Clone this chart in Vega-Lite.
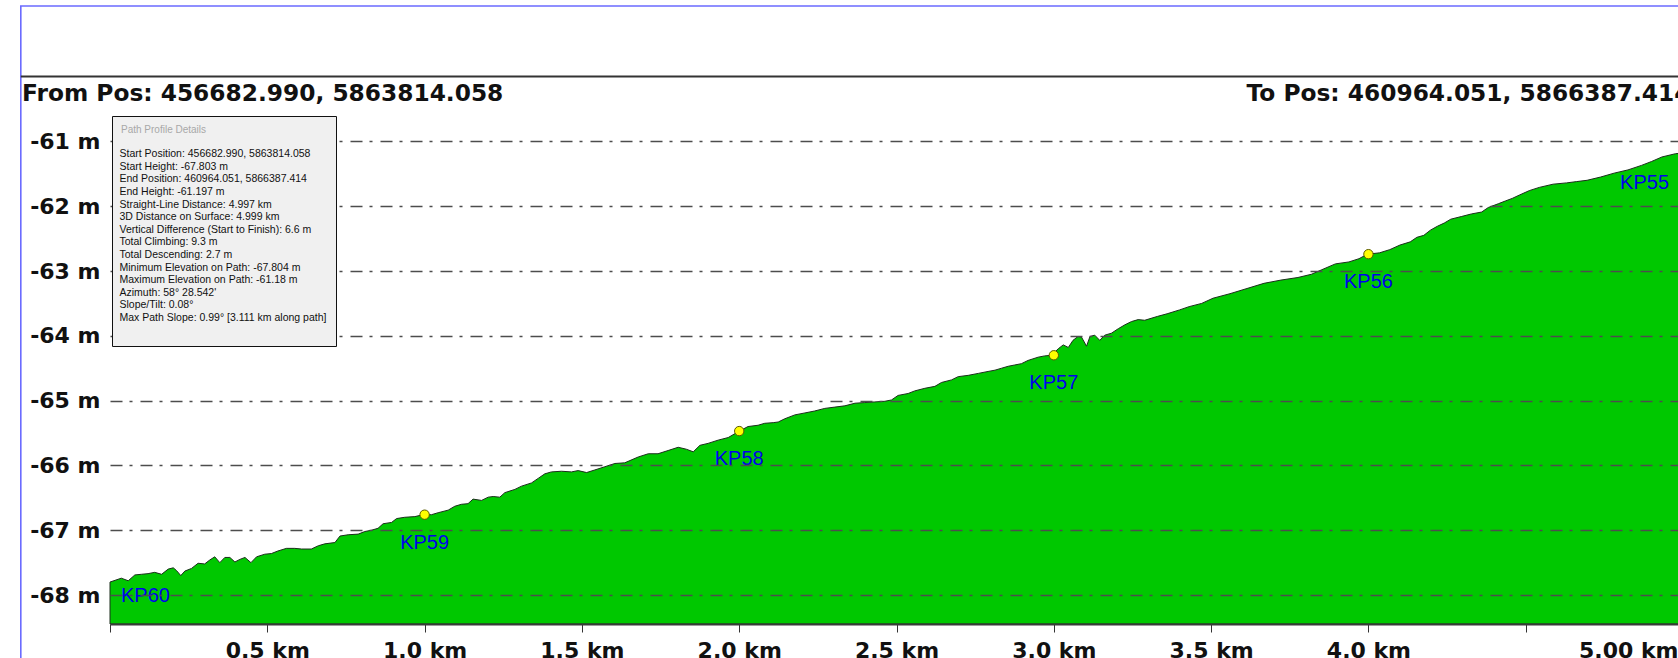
{
  "$schema": "https://vega.github.io/schema/vega-lite/v6.json",
  "width": 1568,
  "height": 515,
  "autosize": {"type": "none"},
  "padding": {"left": 110, "top": 109, "right": 0, "bottom": 34},
  "background": "white",
  "config": {"view": {"stroke": null}},
  "datasets": {
    "profile": [
      {"km": 0, "elev": -67.80}, {"km": 0.036, "elev": -67.74}, {"km": 0.058, "elev": -67.78}, {"km": 0.079, "elev": -67.69},
      {"km": 0.100, "elev": -67.68}, {"km": 0.121, "elev": -67.67}, {"km": 0.142, "elev": -67.65}, {"km": 0.164, "elev": -67.68},
      {"km": 0.185, "elev": -67.60}, {"km": 0.201, "elev": -67.58}, {"km": 0.211, "elev": -67.62}, {"km": 0.225, "elev": -67.70},
      {"km": 0.238, "elev": -67.63}, {"km": 0.259, "elev": -67.59}, {"km": 0.280, "elev": -67.51}, {"km": 0.301, "elev": -67.52},
      {"km": 0.317, "elev": -67.46}, {"km": 0.333, "elev": -67.41}, {"km": 0.349, "elev": -67.50}, {"km": 0.365, "elev": -67.42},
      {"km": 0.381, "elev": -67.42}, {"km": 0.397, "elev": -67.49}, {"km": 0.413, "elev": -67.45}, {"km": 0.429, "elev": -67.42},
      {"km": 0.448, "elev": -67.50}, {"km": 0.466, "elev": -67.41}, {"km": 0.492, "elev": -67.37}, {"km": 0.513, "elev": -67.36},
      {"km": 0.534, "elev": -67.32}, {"km": 0.561, "elev": -67.28}, {"km": 0.587, "elev": -67.28}, {"km": 0.609, "elev": -67.29},
      {"km": 0.640, "elev": -67.29}, {"km": 0.662, "elev": -67.24}, {"km": 0.683, "elev": -67.21}, {"km": 0.715, "elev": -67.19},
      {"km": 0.731, "elev": -67.09}, {"km": 0.757, "elev": -67.07}, {"km": 0.789, "elev": -67.06}, {"km": 0.810, "elev": -67.02},
      {"km": 0.831, "elev": -67.00}, {"km": 0.852, "elev": -66.97}, {"km": 0.868, "elev": -66.90}, {"km": 0.895, "elev": -66.88},
      {"km": 0.911, "elev": -66.82}, {"km": 0.937, "elev": -66.80}, {"km": 0.969, "elev": -66.79}, {"km": 0.995, "elev": -66.76},
      {"km": 1.022, "elev": -66.76}, {"km": 1.043, "elev": -66.73}, {"km": 1.075, "elev": -66.69}, {"km": 1.096, "elev": -66.63},
      {"km": 1.117, "elev": -66.60}, {"km": 1.138, "elev": -66.59}, {"km": 1.154, "elev": -66.52}, {"km": 1.181, "elev": -66.54},
      {"km": 1.202, "elev": -66.49}, {"km": 1.218, "elev": -66.48}, {"km": 1.239, "elev": -66.49}, {"km": 1.255, "elev": -66.42},
      {"km": 1.287, "elev": -66.37}, {"km": 1.308, "elev": -66.32}, {"km": 1.340, "elev": -66.27}, {"km": 1.361, "elev": -66.20},
      {"km": 1.382, "elev": -66.13}, {"km": 1.403, "elev": -66.10}, {"km": 1.435, "elev": -66.09}, {"km": 1.467, "elev": -66.10},
      {"km": 1.488, "elev": -66.08}, {"km": 1.515, "elev": -66.11}, {"km": 1.541, "elev": -66.07}, {"km": 1.573, "elev": -66.02},
      {"km": 1.605, "elev": -65.97}, {"km": 1.636, "elev": -65.96}, {"km": 1.679, "elev": -65.87}, {"km": 1.711, "elev": -65.82},
      {"km": 1.742, "elev": -65.82}, {"km": 1.774, "elev": -65.77}, {"km": 1.806, "elev": -65.72}, {"km": 1.832, "elev": -65.75},
      {"km": 1.854, "elev": -65.79}, {"km": 1.875, "elev": -65.69}, {"km": 1.901, "elev": -65.66}, {"km": 1.933, "elev": -65.61},
      {"km": 1.965, "elev": -65.57}, {"km": 1.997, "elev": -65.48}, {"km": 2.028, "elev": -65.40}, {"km": 2.060, "elev": -65.38},
      {"km": 2.081, "elev": -65.35}, {"km": 2.108, "elev": -65.34}, {"km": 2.124, "elev": -65.33}, {"km": 2.145, "elev": -65.28},
      {"km": 2.177, "elev": -65.22}, {"km": 2.209, "elev": -65.19}, {"km": 2.240, "elev": -65.16}, {"km": 2.272, "elev": -65.12},
      {"km": 2.304, "elev": -65.10}, {"km": 2.336, "elev": -65.08}, {"km": 2.368, "elev": -65.04}, {"km": 2.399, "elev": -65.03},
      {"km": 2.431, "elev": -65.02}, {"km": 2.463, "elev": -65.01}, {"km": 2.484, "elev": -64.99}, {"km": 2.505, "elev": -64.92},
      {"km": 2.537, "elev": -64.89}, {"km": 2.558, "elev": -64.85}, {"km": 2.590, "elev": -64.81}, {"km": 2.622, "elev": -64.78},
      {"km": 2.643, "elev": -64.72}, {"km": 2.675, "elev": -64.68}, {"km": 2.696, "elev": -64.63}, {"km": 2.728, "elev": -64.61},
      {"km": 2.760, "elev": -64.58}, {"km": 2.791, "elev": -64.55}, {"km": 2.813, "elev": -64.53}, {"km": 2.834, "elev": -64.50},
      {"km": 2.855, "elev": -64.47}, {"km": 2.876, "elev": -64.45}, {"km": 2.897, "elev": -64.43}, {"km": 2.918, "elev": -64.38},
      {"km": 2.950, "elev": -64.33}, {"km": 2.971, "elev": -64.31}, {"km": 2.993, "elev": -64.30}, {"km": 3.014, "elev": -64.20},
      {"km": 3.030, "elev": -64.14}, {"km": 3.046, "elev": -64.18}, {"km": 3.061, "elev": -64.07}, {"km": 3.077, "elev": -64.01},
      {"km": 3.088, "elev": -64.02}, {"km": 3.104, "elev": -64.16}, {"km": 3.115, "elev": -64.01}, {"km": 3.130, "elev": -63.99},
      {"km": 3.146, "elev": -64.07}, {"km": 3.162, "elev": -63.99}, {"km": 3.183, "elev": -63.96}, {"km": 3.205, "elev": -63.89},
      {"km": 3.226, "elev": -63.83}, {"km": 3.247, "elev": -63.78}, {"km": 3.268, "elev": -63.75}, {"km": 3.289, "elev": -63.76},
      {"km": 3.330, "elev": -63.70}, {"km": 3.360, "elev": -63.66}, {"km": 3.400, "elev": -63.60}, {"km": 3.430, "elev": -63.55},
      {"km": 3.470, "elev": -63.50}, {"km": 3.506, "elev": -63.42}, {"km": 3.560, "elev": -63.35}, {"km": 3.614, "elev": -63.27},
      {"km": 3.668, "elev": -63.19}, {"km": 3.722, "elev": -63.14}, {"km": 3.776, "elev": -63.10}, {"km": 3.819, "elev": -63.05},
      {"km": 3.852, "elev": -62.98}, {"km": 3.895, "elev": -62.89}, {"km": 3.938, "elev": -62.86}, {"km": 3.970, "elev": -62.81},
      {"km": 3.997, "elev": -62.74}, {"km": 4.035, "elev": -62.72}, {"km": 4.068, "elev": -62.67}, {"km": 4.100, "elev": -62.60},
      {"km": 4.133, "elev": -62.55}, {"km": 4.154, "elev": -62.48}, {"km": 4.176, "elev": -62.45}, {"km": 4.197, "elev": -62.37},
      {"km": 4.219, "elev": -62.31}, {"km": 4.241, "elev": -62.26}, {"km": 4.262, "elev": -62.20}, {"km": 4.295, "elev": -62.16},
      {"km": 4.327, "elev": -62.12}, {"km": 4.360, "elev": -62.09}, {"km": 4.381, "elev": -62.02}, {"km": 4.414, "elev": -61.96},
      {"km": 4.435, "elev": -61.92}, {"km": 4.457, "elev": -61.88}, {"km": 4.479, "elev": -61.83}, {"km": 4.511, "elev": -61.76},
      {"km": 4.543, "elev": -61.71}, {"km": 4.587, "elev": -61.66}, {"km": 4.630, "elev": -61.64}, {"km": 4.662, "elev": -61.62},
      {"km": 4.695, "elev": -61.60}, {"km": 4.738, "elev": -61.55}, {"km": 4.781, "elev": -61.49}, {"km": 4.825, "elev": -61.44},
      {"km": 4.868, "elev": -61.37}, {"km": 4.900, "elev": -61.31}, {"km": 4.933, "elev": -61.24}, {"km": 4.976, "elev": -61.19},
      {"km": 4.997, "elev": -61.18}
    ],
    "kp": [
      {"kp": "KP60", "km": 0, "elev": -67.80},
      {"kp": "KP59", "km": 1.0, "elev": -66.76},
      {"kp": "KP58", "km": 2.0, "elev": -65.47},
      {"kp": "KP57", "km": 3.0, "elev": -64.30},
      {"kp": "KP56", "km": 4.0, "elev": -62.74},
      {"kp": "KP55", "km": 5.0, "elev": -61.18}
    ],
    "details": [
      {"line": "Start Position: 456682.990, 5863814.058"},
      {"line": "Start Height: -67.803 m"},
      {"line": "End Position: 460964.051, 5866387.414"},
      {"line": "End Height: -61.197 m"},
      {"line": "Straight-Line Distance: 4.997 km"},
      {"line": "3D Distance on Surface: 4.999 km"},
      {"line": "Vertical Difference (Start to Finish): 6.6 m"},
      {"line": "Total Climbing: 9.3 m"},
      {"line": "Total Descending: 2.7 m"},
      {"line": "Minimum Elevation on Path: -67.804 m"},
      {"line": "Maximum Elevation on Path: -61.18 m"},
      {"line": "Azimuth: 58° 28.542'"},
      {"line": "Slope/Tilt: 0.08°"},
      {"line": "Max Path Slope: 0.99° [3.111 km along path]"}
    ]
  },
  "layer": [
    {
      "data": {"name": "profile"},
      "mark": {"type": "area", "color": "#00c800", "stroke": "#1c2e1c", "strokeWidth": 1},
      "encoding": {
        "x": {
          "field": "km", "type": "quantitative",
          "scale": {"domain": [0, 4.984], "nice": false, "zero": false},
          "axis": {
            "values": [0, 0.5, 1, 1.5, 2, 2.5, 3, 3.5, 4, 4.5, 4.984],
            "labelExpr": "datum.value == 0 || datum.value == 4.5 ? '' : (datum.value > 4.9 ? '5.00 km' : format(datum.value, '.1f') + ' km')",
            "labelAlign": {"condition": {"test": "datum.value > 4.9", "value": "right"}, "value": "center"},
            "labelFont": "DejaVu Sans", "labelFontWeight": "bold", "labelFontSize": 22, "labelColor": "#111111",
            "labelPadding": 8, "labelBound": false, "labelOverlap": false, "labelFlush": false,
            "tickSize": 8, "tickColor": "#333333", "tickWidth": 1,
            "domainColor": "#3a3a3a", "domainWidth": 2,
            "grid": false, "zindex": 1,
            "title": "To Pos: 460964.051, 5866387.414",
            "titleX": 1136, "titleY": -523.3, "titleAlign": "left", "titleBaseline": "alphabetic", "titleAngle": 0,
            "titleFont": "DejaVu Sans", "titleFontWeight": "bold", "titleFontSize": 23.3, "titleColor": "#111111"
          }
        },
        "y": {
          "field": "elev", "type": "quantitative",
          "scale": {"domain": [-68.447, -60.5], "nice": false, "zero": false},
          "axis": {
            "values": [-68, -67, -66, -65, -64, -63, -62, -61],
            "labelExpr": "datum.value + ' m'",
            "labelFont": "DejaVu Sans", "labelFontWeight": "bold", "labelFontSize": 22, "labelColor": "#111111",
            "labelPadding": 10, "ticks": false, "domain": false,
            "grid": true, "gridColor": "#4d4d4d", "gridWidth": 1.5, "gridDash": [12, 7, 3, 8],
            "zindex": 1,
            "title": "From Pos: 456682.990, 5863814.058",
            "titleX": -88.5, "titleY": -8.3, "titleAlign": "left", "titleBaseline": "alphabetic", "titleAngle": 0,
            "titleFont": "DejaVu Sans", "titleFontWeight": "bold", "titleFontSize": 23.3, "titleColor": "#111111"
          }
        },
        "y2": {"datum": -68.447}
      }
    },
    {
      "data": {"values": [{}]},
      "mark": {"type": "rect", "fill": "white", "fillOpacity": 0, "stroke": "#6b6bff", "strokeWidth": 1.6},
      "encoding": {
        "x": {"datum": -0.2835, "type": "quantitative"},
        "x2": {"datum": 6},
        "y": {"datum": -58.91, "type": "quantitative"},
        "y2": {"datum": -70}
      }
    },
    {
      "data": {"values": [{}]},
      "mark": {"type": "rule", "color": "#333333", "strokeWidth": 2},
      "encoding": {
        "x": {"datum": -0.2835, "type": "quantitative"},
        "x2": {"datum": 6},
        "y": {"datum": -60.0, "type": "quantitative"}
      }
    },
    {
      "data": {"name": "kp"},
      "transform": [{"filter": "datum.km > 0 && datum.km < 4.99"}],
      "mark": {"type": "point", "filled": true, "fill": "#ffff00", "stroke": "#5a5a00", "strokeWidth": 1, "size": 88, "opacity": 1},
      "encoding": {
        "x": {"field": "km", "type": "quantitative"},
        "y": {"field": "elev", "type": "quantitative"}
      }
    },
    {
      "data": {"name": "kp"},
      "transform": [{"filter": "datum.km > 0 && datum.km < 4.99"}],
      "mark": {"type": "text", "font": "Liberation Sans", "fontSize": 20, "color": "#0000ee", "align": "center", "baseline": "middle", "dy": 28},
      "encoding": {
        "x": {"field": "km", "type": "quantitative"},
        "y": {"field": "elev", "type": "quantitative"},
        "text": {"field": "kp"}
      }
    },
    {
      "data": {"name": "kp"},
      "transform": [{"filter": "datum.km == 0"}],
      "mark": {"type": "text", "font": "Liberation Sans", "fontSize": 20, "color": "#0000ee", "align": "left", "baseline": "middle", "dx": 11, "dy": 14},
      "encoding": {
        "x": {"field": "km", "type": "quantitative"},
        "y": {"field": "elev", "type": "quantitative"},
        "text": {"field": "kp"}
      }
    },
    {
      "data": {"name": "kp"},
      "transform": [{"filter": "datum.km >= 4.99"}],
      "mark": {"type": "text", "font": "Liberation Sans", "fontSize": 20, "color": "#0000ee", "align": "right", "baseline": "middle", "dx": -14, "dy": 30},
      "encoding": {
        "x": {"field": "km", "type": "quantitative"},
        "y": {"field": "elev", "type": "quantitative"},
        "text": {"field": "kp"}
      }
    },
    {
      "data": {"name": "details"},
      "mark": {"type": "point", "opacity": 0},
      "encoding": {
        "color": {
          "field": "line", "type": "nominal",
          "scale": {
            "domain": [
              "Start Position: 456682.990, 5863814.058",
              "Start Height: -67.803 m",
              "End Position: 460964.051, 5866387.414",
              "End Height: -61.197 m",
              "Straight-Line Distance: 4.997 km",
              "3D Distance on Surface: 4.999 km",
              "Vertical Difference (Start to Finish): 6.6 m",
              "Total Climbing: 9.3 m",
              "Total Descending: 2.7 m",
              "Minimum Elevation on Path: -67.804 m",
              "Maximum Elevation on Path: -61.18 m",
              "Azimuth: 58° 28.542'",
              "Slope/Tilt: 0.08°",
              "Max Path Slope: 0.99° [3.111 km along path]",
              " "
            ],
            "range": ["#000000"]
          },
          "legend": {
            "orient": "none", "legendX": 2, "legendY": 7, "direction": "vertical",
            "title": "Path Profile Details",
            "titleFont": "Liberation Sans", "titleFontSize": 10, "titleFontWeight": "normal", "titleColor": "#a8a8a8", "titlePadding": 14,
            "labelFont": "Liberation Sans", "labelFontSize": 10.5, "labelColor": "#111111",
            "labelLimit": 500, "labelOffset": -12, "rowPadding": 1.6,
            "symbolSize": 0, "symbolOpacity": 0, "symbolStrokeWidth": 0, "symbolType": "circle",
            "padding": 9, "fillColor": "#f0f0f0", "strokeColor": "#111111",
            "zindex": 3
          }
        }
      }
    }
  ]
}
